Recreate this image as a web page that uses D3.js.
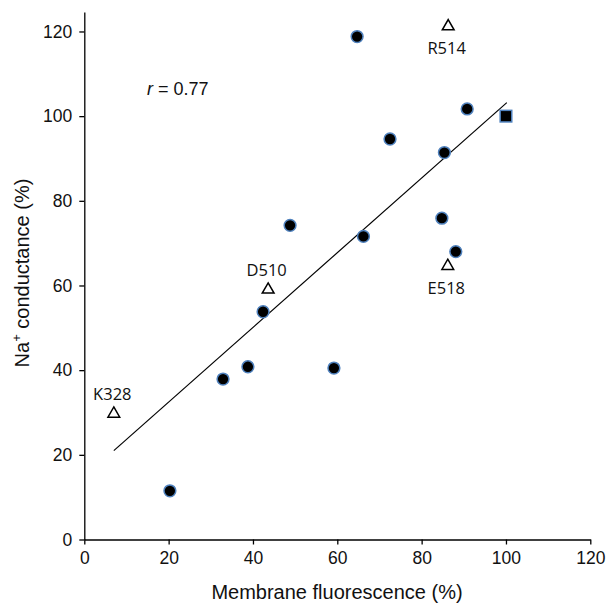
<!DOCTYPE html>
<html><head><meta charset="utf-8">
<script src="https://cdn.jsdelivr.net/npm/d3@7"></script>
<style>
html,body{margin:0;padding:0;background:#fff;}
svg{display:block;}
.tick text{font-family:"Liberation Sans",Arial,sans-serif;font-size:17.5px;fill:#111;}
</style>
</head><body>
<svg id="chart" width="609" height="604"></svg>
<script>
// ---- data ----
const xTicks = [0, 20, 40, 60, 80, 100, 120];
const yTicks = [0, 20, 40, 60, 80, 100, 120];
const circleX = [20.3, 32.9, 38.8, 42.4, 48.8, 59.2, 64.7, 66.2, 72.5, 84.8, 85.4, 88.1, 90.8];
const circleY = [11.5, 37.9, 40.8, 53.8, 74.2, 40.5, 118.8, 71.6, 94.6, 75.9, 91.4, 68.0, 101.7];
const squareX = [100];
const squareY = [100];
const triNames = ["K328", "D510", "R514", "E518"];
const triX = [7.0, 43.6, 86.3, 86.2];
const triY = [29.7, 59.0, 121.2, 64.6];
const triLabelSide = ["above", "above", "below", "below"];
const fitX = [7.0, 100.2];
const fitY = [21.0, 103.2];
const rText = "0.77";

// ---- layout ----
const svg = d3.select("#chart");
const x = d3.scaleLinear().domain([0, 120]).range([84.3, 590.3]);
const y = d3.scaleLinear().domain([0, 124.6]).range([539.5, 12]);

// axes
const xAxis = d3.axisBottom(x).tickValues(xTicks).tickSize(5).tickPadding(7).tickSizeOuter(0);
const yAxis = d3.axisLeft(y).tickValues(yTicks).tickSize(5).tickPadding(7).tickSizeOuter(0);

const gx = svg.append("g").attr("transform", `translate(0,${y(0)})`).call(xAxis);
const gy = svg.append("g").attr("transform", `translate(${x(0)},0)`).call(yAxis);
[gx, gy].forEach(g => {
  g.select(".domain").attr("stroke", "#000").attr("stroke-width", 1.3);
  g.selectAll(".tick line").attr("stroke", "#000").attr("stroke-width", 1.3);
});

// axis titles
svg.append("text")
  .attr("x", 337).attr("y", 599)
  .attr("text-anchor", "middle")
  .style("font-family", '"Liberation Sans",Arial,sans-serif')
  .style("font-size", "20px").style("fill", "#111")
  .text("Membrane fluorescence (%)");

const yt = svg.append("text")
  .attr("transform", "translate(29,273) rotate(-90)")
  .attr("text-anchor", "middle")
  .style("font-family", '"Liberation Sans",Arial,sans-serif')
  .style("font-size", "20px").style("fill", "#111");
yt.append("tspan").text("Na");
yt.append("tspan").attr("dy", -8).style("font-size", "13px").text("+");
yt.append("tspan").attr("dy", 8).text(" conductance (%)");

// r label
const rt = svg.append("text")
  .attr("x", 147).attr("y", 95)
  .style("font-family", '"Liberation Sans",Arial,sans-serif')
  .style("font-size", "18px").style("fill", "#111");
rt.append("tspan").style("font-style", "italic").text("r");
rt.append("tspan").text(" = " + rText);

// fit line
const fit = fitX.map((v, i) => [v, fitY[i]]);
svg.append("path")
  .datum(fit)
  .attr("d", d3.line().x(d => x(d[0])).y(d => y(d[1])))
  .attr("fill", "none").attr("stroke", "#000").attr("stroke-width", 1.2);

// circles
const circ = circleX.map((v, i) => ({x: v, y: circleY[i]}));
svg.append("g").selectAll("circle").data(circ).join("circle")
  .attr("cx", d => x(d.x)).attr("cy", d => y(d.y)).attr("r", 5.9)
  .attr("fill", "#000").attr("stroke", "#4f81bd").attr("stroke-width", 1.5);

// square
const sq = squareX.map((v, i) => ({x: v, y: squareY[i]}));
svg.append("g").selectAll("rect").data(sq).join("rect")
  .attr("x", d => x(d.x) - 5.8).attr("y", d => y(d.y) - 5.8)
  .attr("width", 11.6).attr("height", 11.6)
  .attr("fill", "#000").attr("stroke", "#4f81bd").attr("stroke-width", 1.5);

// triangles
const tri = triX.map((v, i) => ({x: v, y: triY[i], name: triNames[i], side: triLabelSide[i]}));
const tsym = d3.symbol().type(d3.symbolTriangle).size(60);
svg.append("g").selectAll("path").data(tri).join("path")
  .attr("transform", d => `translate(${x(d.x)},${y(d.y)})`)
  .attr("d", tsym)
  .attr("fill", "#fff").attr("stroke", "#000").attr("stroke-width", 1.5);

svg.append("g").selectAll("text").data(tri).join("text")
  .attr("x", d => x(d.x) - 1.5)
  .attr("y", d => y(d.y) + (d.side === "above" ? -14 : 28))
  .attr("text-anchor", "middle")
  .style("font-family", '"Open Sans",Lato,sans-serif')
  .style("font-size", "16.5px").style("fill", "#111")
  .text(d => d.name);
</script>
</body></html>
